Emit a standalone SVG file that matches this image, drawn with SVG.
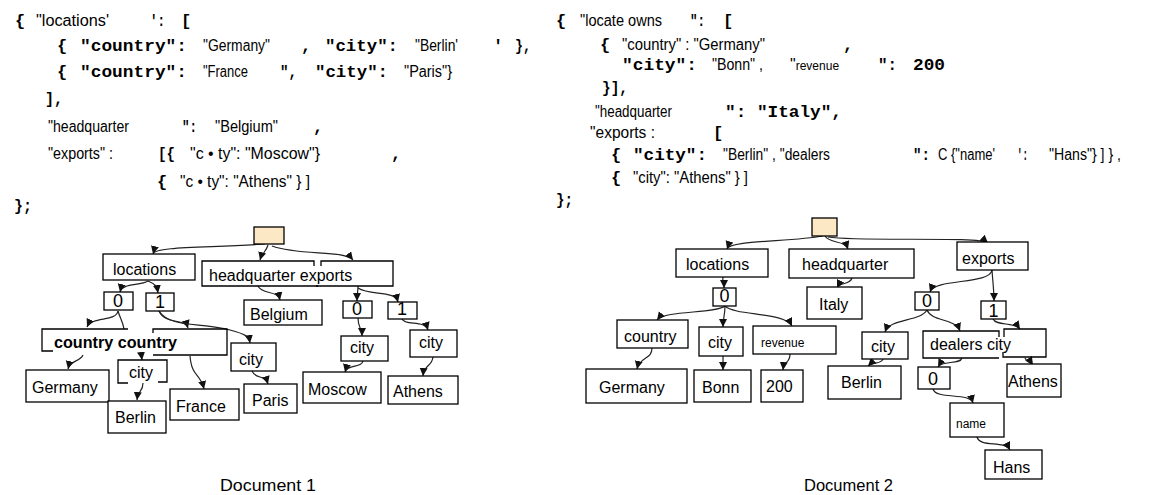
<svg xmlns="http://www.w3.org/2000/svg" width="1157" height="495" viewBox="0 0 1157 495">
<defs>
<marker id="ah" markerUnits="userSpaceOnUse" markerWidth="9" markerHeight="9" refX="8" refY="4" orient="auto">
<path d="M0,0 L8,4 L0,8 z" fill="#111"/>
</marker>
</defs>
<style>
.box{fill:#fff;stroke:#000;stroke-width:1.3}
.open{fill:none;stroke:#000;stroke-width:1.3}
.root{fill:#fce8c4;stroke:#000;stroke-width:1.3}
.lbl{font-family:"Liberation Sans",Arial,sans-serif;font-size:16px;fill:#000}
.num{font-family:"Liberation Sans",Arial,sans-serif;font-size:18px;fill:#000;text-anchor:middle}
.small{font-family:"Liberation Sans",Arial,sans-serif;font-size:12px;fill:#000}
.m{font-family:"Liberation Mono","Courier New",monospace;font-weight:bold;font-size:17px;fill:#000}
.s{font-family:"Liberation Sans",Arial,sans-serif;font-size:16px;fill:#000}
.conn{fill:none;stroke:#222;stroke-width:1.2;marker-end:url(#ah)}
.plain{fill:none;stroke:#222;stroke-width:1.2}
.cap{font-family:"Liberation Sans",Arial,sans-serif;font-size:16px;fill:#000}
</style>

<g id="code1">
<text class="m" x="15" y="26">{</text>
<text class="s" x="36" y="26" textLength="73" lengthAdjust="spacingAndGlyphs">"locations'</text>
<text class="m" x="150" y="26" textLength="15" lengthAdjust="spacingAndGlyphs">':</text>
<text class="m" x="181" y="26">[</text>
<text class="m" x="57" y="51">{</text>
<text class="m" x="80" y="51" textLength="107" lengthAdjust="spacingAndGlyphs">"country":</text>
<text class="s" x="203" y="51" textLength="67" lengthAdjust="spacingAndGlyphs">"Germany"</text>
<text class="m" x="301" y="51">,</text>
<text class="m" x="325" y="51" textLength="73" lengthAdjust="spacingAndGlyphs">"city":</text>
<text class="s" x="415" y="51" textLength="43" lengthAdjust="spacingAndGlyphs">"Berlin'</text>
<text class="m" x="493" y="51">'</text>
<text class="m" x="515" y="51" textLength="16" lengthAdjust="spacingAndGlyphs">},</text>
<text class="m" x="57" y="77">{</text>
<text class="m" x="80" y="77" textLength="107" lengthAdjust="spacingAndGlyphs">"country":</text>
<text class="s" x="203" y="77" textLength="45" lengthAdjust="spacingAndGlyphs">"France</text>
<text class="m" x="280" y="77" textLength="17" lengthAdjust="spacingAndGlyphs">",</text>
<text class="m" x="315" y="77" textLength="73" lengthAdjust="spacingAndGlyphs">"city":</text>
<text class="s" x="404" y="77" textLength="48" lengthAdjust="spacingAndGlyphs">"Paris"}</text>
<text class="m" x="45" y="104" textLength="18" lengthAdjust="spacingAndGlyphs">],</text>
<text class="s" x="48" y="132" textLength="81" lengthAdjust="spacingAndGlyphs">"headquarter</text>
<text class="m" x="182" y="132" textLength="15" lengthAdjust="spacingAndGlyphs">":</text>
<text class="s" x="215" y="132" textLength="63" lengthAdjust="spacingAndGlyphs">"Belgium"</text>
<text class="m" x="313" y="132">,</text>
<text class="s" x="48" y="159" textLength="65" lengthAdjust="spacingAndGlyphs">"exports" :</text>
<text class="m" x="158" y="159" textLength="17" lengthAdjust="spacingAndGlyphs">[{</text>
<text class="s" x="190" y="159" textLength="130" lengthAdjust="spacingAndGlyphs">"c • ty": "Moscow"}</text>
<text class="m" x="391" y="159">,</text>
<text class="m" x="157" y="187">{</text>
<text class="s" x="180" y="187" textLength="130" lengthAdjust="spacingAndGlyphs">"c • ty": "Athens" } ]</text>
<text class="m" x="14" y="211" textLength="18" lengthAdjust="spacingAndGlyphs">};</text>
</g>

<g id="code2">
<text class="m" x="556" y="26">{</text>
<text class="s" x="580" y="26" textLength="82" lengthAdjust="spacingAndGlyphs">"locate owns</text>
<text class="m" x="690" y="26" textLength="15" lengthAdjust="spacingAndGlyphs">":</text>
<text class="m" x="723" y="26">[</text>
<text class="m" x="600" y="50">{</text>
<text class="s" x="622" y="50" textLength="143" lengthAdjust="spacingAndGlyphs">"country" : "Germany"</text>
<text class="m" x="843" y="50">,</text>
<text class="m" x="622" y="70" textLength="75" lengthAdjust="spacingAndGlyphs">"city":</text>
<text class="s" x="712" y="70" textLength="51" lengthAdjust="spacingAndGlyphs">"Bonn" ,</text>
<text class="s" x="790" y="70">"<tspan font-size="12">revenue</tspan></text>
<text class="m" x="878" y="70" textLength="19" lengthAdjust="spacingAndGlyphs">":</text>
<text class="m" x="913" y="70" textLength="32" lengthAdjust="spacingAndGlyphs">200</text>
<text class="m" x="602" y="93" textLength="26" lengthAdjust="spacingAndGlyphs">}],</text>
<text class="s" x="595" y="117" textLength="77" lengthAdjust="spacingAndGlyphs">"headquarter</text>
<text class="m" x="725" y="117" textLength="117" lengthAdjust="spacingAndGlyphs">": "Italy",</text>
<text class="s" x="590" y="138" textLength="65" lengthAdjust="spacingAndGlyphs">"exports :</text>
<text class="m" x="713" y="138">[</text>
<text class="m" x="611" y="160">{</text>
<text class="m" x="633" y="160" textLength="74" lengthAdjust="spacingAndGlyphs">"city":</text>
<text class="s" x="723" y="160" textLength="107" lengthAdjust="spacingAndGlyphs">"Berlin" , "dealers</text>
<text class="m" x="913" y="160" textLength="17" lengthAdjust="spacingAndGlyphs">":</text>
<text class="s" x="938" y="160" textLength="57" lengthAdjust="spacingAndGlyphs">C {"name'</text>
<text class="m" x="1017" y="160" textLength="11" lengthAdjust="spacingAndGlyphs">':</text>
<text class="s" x="1049" y="160" textLength="72" lengthAdjust="spacingAndGlyphs">"Hans"} ] } ,</text>
<text class="m" x="611" y="183">{</text>
<text class="s" x="633" y="183" textLength="115" lengthAdjust="spacingAndGlyphs">"city": "Athens" } ]</text>
<text class="m" x="556" y="205" textLength="17" lengthAdjust="spacingAndGlyphs">};</text>
</g>

<g id="connectors">
<path class="conn" d="M265,244 C210,248 155,246 153,254"/>
<path class="conn" d="M268,245 C266,252 262,253 260,260"/>
<path class="conn" d="M272,246 C300,256 345,250 353,260"/>
<path class="conn" d="M148,281 C140,286 122,283 120,292"/>
<path class="conn" d="M148,281 C155,284 157,286 158,293"/>
<path class="conn" d="M258,286 C262,295 278,290 280,300"/>
<path class="conn" d="M358,286 C358,292 357,294 357,301"/>
<path class="conn" d="M358,288 C370,296 395,290 398,302"/>
<path class="conn" d="M118,311 C116,322 92,316 87,327"/>
<path class="plain" d="M118,311 C120,318 123,322 124,329"/>
<path class="conn" d="M159,311 C165,325 185,318 188,328"/>
<path class="conn" d="M159,311 C170,328 200,322 230,330 C245,334 249,336 250,343"/>
<path class="conn" d="M83,355 C80,362 70,360 68,369"/>
<path class="conn" d="M141,352 L142,360"/>
<path class="conn" d="M143,383 C143,392 138,390 137,400"/>
<path class="conn" d="M190,356 C192,378 200,372 204,389"/>
<path class="conn" d="M252,371 C256,380 265,374 268,384"/>
<path class="conn" d="M358,318 C358,328 362,328 362,336"/>
<path class="conn" d="M402,319 C405,326 425,320 428,330"/>
<path class="conn" d="M363,361 C362,368 347,364 345,372"/>
<path class="conn" d="M433,357 C432,367 424,364 423,376"/>

<path class="conn" d="M823,236 C790,242 730,240 727,249"/>
<path class="conn" d="M825,236 C830,244 845,240 848,249"/>
<path class="conn" d="M828,237 C860,242 980,236 988,243"/>
<path class="conn" d="M723,277 C722,282 724,283 724,288"/>
<path class="conn" d="M725,306 C715,314 665,310 657,320"/>
<path class="conn" d="M725,306 C725,315 723,318 723,327"/>
<path class="conn" d="M725,306 C735,316 785,312 792,326"/>
<path class="conn" d="M852,278 C850,285 840,282 837,288"/>
<path class="conn" d="M652,348 C652,360 640,356 637,369"/>
<path class="conn" d="M723,356 L723,370"/>
<path class="conn" d="M790,354 C790,364 784,360 783,370"/>
<path class="conn" d="M992,270 C990,285 935,278 930,292"/>
<path class="conn" d="M992,270 C993,285 994,290 994,301"/>
<path class="conn" d="M927,310 C920,322 890,318 885,332"/>
<path class="conn" d="M927,310 C932,322 955,318 960,331"/>
<path class="conn" d="M993,319 C996,326 1015,322 1020,329"/>
<path class="conn" d="M883,359 C882,364 872,362 868,366"/>
<path class="conn" d="M962,358 C960,365 942,360 938,367"/>
<path class="conn" d="M1025,358 C1027,363 1031,362 1033,365"/>
<path class="conn" d="M933,389 C936,400 970,392 973,403"/>
<path class="conn" d="M977,437 C980,448 1005,440 1010,450"/>
</g>

<g id="d1-root"><rect class="root" x="254" y="227" width="30" height="17"/></g>
<g id="d1-locations"><rect class="box" x="103" y="254" width="92" height="26"/><text class="lbl" x="113" y="275">locations</text></g>
<g id="d1-headquarter-exports">
<path class="open" d="M314,266 V261 H202 V286 H318"/>
<path class="open" d="M321,266 V261 H393 V286 H316"/>
<text class="lbl" x="209" y="281">headquarter exports</text>
</g>
<g id="d1-belgium"><rect class="box" x="244" y="300" width="78" height="25"/><text class="lbl" x="250" y="320">Belgium</text></g>
<g id="d1-loc0"><rect class="box" x="104" y="292" width="29" height="18"/><text class="num" x="118" y="307">0</text></g>
<g id="d1-loc1"><rect class="box" x="146" y="293" width="28" height="18"/><text class="num" x="160" y="308">1</text></g>
<g id="d1-country">
<path class="open" d="M128,329 H42 V351 H53"/>
<path class="open" d="M153,333 V329 H227 V355 H153"/>
<text class="lbl" x="54" y="348" font-weight="bold" textLength="123" lengthAdjust="spacingAndGlyphs">country country</text>
</g>
<g id="d1-city1"><path class="open" d="M128,383 H118 V360 H167 V382 H158"/><text class="lbl" x="129" y="378">city</text></g>
<g id="d1-city2"><rect class="box" x="231" y="343" width="45" height="28"/><text class="lbl" x="239" y="365">city</text></g>
<g id="d1-germany"><rect class="box" x="26" y="370" width="83" height="32"/><text class="lbl" x="32" y="393">Germany</text></g>
<g id="d1-berlin"><rect class="box" x="108" y="401" width="58" height="32"/><text class="lbl" x="115" y="423">Berlin</text></g>
<g id="d1-france"><rect class="box" x="170" y="389" width="69" height="31"/><text class="lbl" x="176" y="412">France</text></g>
<g id="d1-paris"><rect class="box" x="244" y="384" width="53" height="29"/><text class="lbl" x="252" y="406">Paris</text></g>
<g id="d1-exp0"><rect class="box" x="343" y="301" width="29" height="17"/><text class="num" x="357" y="315">0</text></g>
<g id="d1-exp1"><rect class="box" x="388" y="302" width="29" height="17"/><text class="num" x="402" y="315">1</text></g>
<g id="d1-city3"><rect class="box" x="341" y="336" width="47" height="25"/><text class="lbl" x="350" y="353">city</text></g>
<g id="d1-city4"><rect class="box" x="410" y="330" width="47" height="27"/><text class="lbl" x="419" y="348">city</text></g>
<g id="d1-moscow"><rect class="box" x="303" y="372" width="78" height="31"/><text class="lbl" x="308" y="395">Moscow</text></g>
<g id="d1-athens"><rect class="box" x="388" y="376" width="70" height="28"/><text class="lbl" x="393" y="397">Athens</text></g>
<g id="d1-caption"><text class="cap" x="220" y="491" textLength="96" lengthAdjust="spacingAndGlyphs">Document 1</text></g>

<g id="d2-root"><rect class="root" x="812" y="218" width="25" height="18"/></g>
<g id="d2-locations"><rect class="box" x="676" y="249" width="92" height="28"/><text class="lbl" x="686" y="270">locations</text></g>
<g id="d2-headquarter"><rect class="box" x="789" y="249" width="125" height="29"/><text class="lbl" x="802" y="270">headquarter</text></g>
<g id="d2-exports"><rect class="box" x="957" y="242" width="71" height="28"/><text class="lbl" x="962" y="264">exports</text></g>
<g id="d2-loc0"><rect class="box" x="713" y="288" width="23" height="18"/><text class="num" x="724.5" y="302">0</text></g>
<g id="d2-italy"><rect class="box" x="807" y="287" width="55" height="32"/><text class="lbl" x="819" y="310">Italy</text></g>
<g id="d2-exp0"><rect class="box" x="915" y="292" width="24" height="18"/><text class="num" x="927" y="307">0</text></g>
<g id="d2-exp1"><rect class="box" x="981" y="301" width="25" height="18"/><text class="num" x="993.5" y="317">1</text></g>
<g id="d2-country"><rect class="box" x="617" y="320" width="71" height="28"/><text class="lbl" x="624" y="342">country</text></g>
<g id="d2-city"><rect class="box" x="699" y="327" width="44" height="29"/><text class="lbl" x="708" y="348">city</text></g>
<g id="d2-revenue"><rect class="box" x="753" y="326" width="83" height="28"/><text class="small" x="761" y="347">revenue</text></g>
<g id="d2-city2"><rect class="box" x="862" y="332" width="46" height="27"/><text class="lbl" x="871" y="352">city</text></g>
<g id="d2-dealers-city">
<path class="open" d="M999,337 V331 H923 V358 H999"/>
<path class="open" d="M1004,337 V329 H1046 V357 H1003 V352"/>
<text class="lbl" x="930" y="350">dealers city</text>
</g>
<g id="d2-germany"><rect class="box" x="586" y="369" width="101" height="34"/><text class="lbl" x="599" y="393">Germany</text></g>
<g id="d2-bonn"><rect class="box" x="694" y="370" width="57" height="32"/><text class="lbl" x="702" y="393">Bonn</text></g>
<g id="d2-200"><rect class="box" x="761" y="370" width="42" height="32"/><text class="lbl" x="766" y="392" font-size="19">200</text></g>
<g id="d2-berlin"><rect class="box" x="828" y="366" width="73" height="33"/><text class="lbl" x="841" y="388">Berlin</text></g>
<g id="d2-deal0"><rect class="box" x="918" y="367" width="32" height="22"/><text class="num" x="933" y="385">0</text></g>
<g id="d2-athens"><rect class="box" x="1007" y="364" width="54" height="33"/><text class="lbl" x="1008" y="387">Athens</text></g>
<g id="d2-name"><rect class="box" x="950" y="403" width="54" height="34"/><text class="small" x="956" y="428">name</text></g>
<g id="d2-hans"><rect class="box" x="985" y="450" width="57" height="29"/><text class="lbl" x="993" y="473">Hans</text></g>
<g id="d2-caption"><text class="cap" x="804" y="491" textLength="89" lengthAdjust="spacingAndGlyphs">Document 2</text></g>
</svg>
